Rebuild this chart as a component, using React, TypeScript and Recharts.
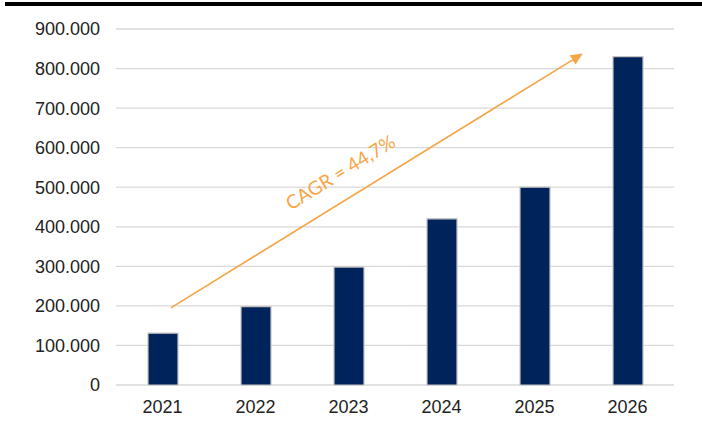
import { BarChart, Bar, XAxis, YAxis, CartesianGrid, ReferenceLine } from 'recharts';

const years = ['2021', '2022', '2023', '2024', '2025', '2026'];
const volumes = [131000, 198000, 298000, 420000, 500000, 830000];
const yTicks = [0, 100000, 200000, 300000, 400000, 500000, 600000, 700000, 800000, 900000];

// CAGR arrow ends, x in band units (0 = left edge of 2021, 6 = right edge of 2026), y in values
const arrowX = [0.59, 5.02];
const arrowY = [195000, 838000];
const cagrLabel = 'CAGR = 44,7%';

const navy = '#00235B';
const orange = '#F6A546';
const tickFont = "'Liberation Sans', Arial, sans-serif";

const chartData = years.map((year, i) => ({ year, value: volumes[i] }));

// the reference segment runs between the centres of the first and last bars (0.5 and 5.5)
const slope = (arrowY[1] - arrowY[0]) / (arrowX[1] - arrowX[0]);
const segY0 = arrowY[0] + (0.5 - arrowX[0]) * slope;
const segY1 = arrowY[0] + (5.5 - arrowX[0]) * slope;
const t0 = (arrowX[0] - 0.5) / 5;
const t1 = (arrowX[1] - 0.5) / 5;

function fmt(v: number) {
  return String(v).replace(/\B(?=(\d{3})+(?!\d))/g, '.');
}

function ArrowShape(props: any) {
  const { x1: cx1, y1: cy1, x2: cx2, y2: cy2 } = props;
  if (cx1 == null) return null;
  const x1 = cx1 + (cx2 - cx1) * t0;
  const y1 = cy1 + (cy2 - cy1) * t0;
  const x2 = cx1 + (cx2 - cx1) * t1;
  const y2 = cy1 + (cy2 - cy1) * t1;
  const dx = x2 - x1;
  const dy = y2 - y1;
  const len = Math.sqrt(dx * dx + dy * dy);
  const ux = dx / len;
  const uy = dy / len;
  const head = 12;
  const half = 5.5;
  const bx = x2 - ux * head;
  const by = y2 - uy * head;
  const angle = (Math.atan2(dy, dx) * 180) / Math.PI;
  const t = 0.445;
  const tx = x1 + dx * t + uy * 27;
  const ty = y1 + dy * t - ux * 27;
  return (
    <g>
      <line x1={x1} y1={y1} x2={bx} y2={by} stroke={orange} strokeWidth={1.6} />
      <polygon
        points={`${x2},${y2} ${bx - uy * half},${by + ux * half} ${bx + uy * half},${by - ux * half}`}
        fill={orange}
      />
      <text
        x={tx}
        y={ty}
        fill={orange}
        fontSize={19}
        fontFamily="Lato, 'Open Sans', sans-serif"
        textAnchor="middle"
        dominantBaseline="central"
        transform={`rotate(${angle} ${tx} ${ty})`}
      >
        {cagrLabel}
      </text>
    </g>
  );
}

export default function App() {
  return (
    <div style={{ position: 'fixed', left: 0, top: 0, width: 702, height: 421, background: '#fff' }}>
      <div style={{ position: 'absolute', left: 5, top: 2, width: 697, height: 4, background: '#000' }} />
      <BarChart
        width={702}
        height={421}
        data={chartData}
        margin={{ top: 29, right: 28, bottom: 0, left: 0 }}
        barCategoryGap={0}
      >
        <CartesianGrid vertical={false} stroke="#d9d9d9" strokeWidth={1.3} />
        <XAxis
          dataKey="year"
          axisLine={false}
          tickLine={false}
          height={36}
          tickMargin={9}
          tick={{ fill: '#222', fontSize: 18, fontFamily: tickFont }}
        />
        <YAxis
          width={116}
          domain={[0, 900000]}
          ticks={yTicks}
          interval={0}
          axisLine={false}
          tickLine={false}
          tickMargin={10}
          tickFormatter={fmt}
          tick={{ fill: '#222', fontSize: 18, fontFamily: tickFont }}
        />
        <Bar
          dataKey="value"
          fill={navy}
          stroke="#c4c4c4"
          strokeWidth={1.2}
          barSize={30}
          isAnimationActive={false}
        />
        <ReferenceLine
          segment={[
            { x: years[0], y: segY0 },
            { x: years[years.length - 1], y: segY1 },
          ]}
          ifOverflow="visible"
          shape={ArrowShape}
        />
      </BarChart>
    </div>
  );
}
